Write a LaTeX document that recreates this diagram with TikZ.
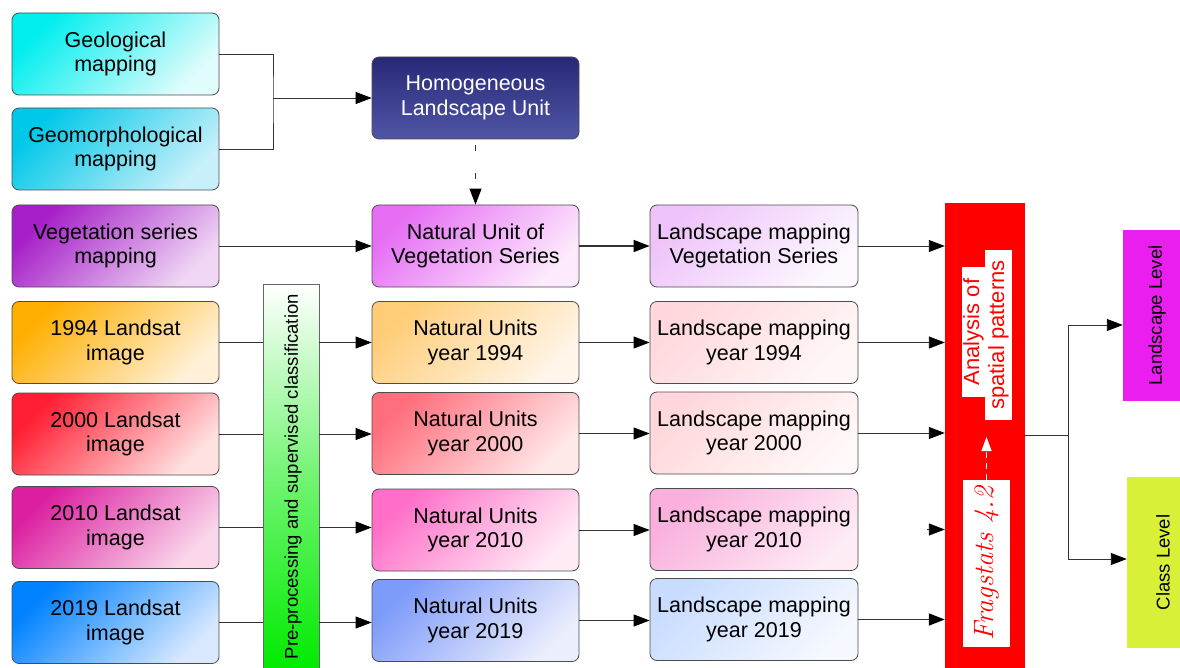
\documentclass[tikz,border=0pt]{standalone}
\usepackage{fontspec}
\usepackage{graphicx}
\setsansfont{Liberation Sans}
\usetikzlibrary{arrows.meta,calc}
\definecolor{geoA}{RGB}{0,238,238}\definecolor{geoB}{RGB}{225,252,252}
\definecolor{gmA}{RGB}{0,200,232}\definecolor{gmB}{RGB}{200,240,250}
\definecolor{vgA}{RGB}{165,30,200}\definecolor{vgB}{RGB}{240,215,245}
\definecolor{aA}{RGB}{255,175,0}\definecolor{aB}{RGB}{255,240,215}
\definecolor{bA}{RGB}{255,30,50}\definecolor{bB}{RGB}{255,225,225}
\definecolor{cA}{RGB}{220,30,160}\definecolor{cB}{RGB}{250,215,235}
\definecolor{dA}{RGB}{0,130,255}\definecolor{dB}{RGB}{215,232,255}
\definecolor{hoA}{RGB}{40,40,120}\definecolor{hoB}{RGB}{80,85,165}
\definecolor{nvA}{RGB}{230,110,245}\definecolor{nvB}{RGB}{253,235,253}
\definecolor{naA}{RGB}{255,205,120}\definecolor{naB}{RGB}{255,245,232}
\definecolor{nbA}{RGB}{255,110,125}\definecolor{nbB}{RGB}{255,232,232}
\definecolor{ncA}{RGB}{255,110,200}\definecolor{ncB}{RGB}{255,235,245}
\definecolor{ndA}{RGB}{125,155,250}\definecolor{ndB}{RGB}{235,238,252}
\definecolor{lvA}{RGB}{238,195,250}\definecolor{lvB}{RGB}{252,248,254}
\definecolor{laA}{RGB}{255,215,220}\definecolor{laB}{RGB}{255,247,247}
\definecolor{lbA}{RGB}{255,215,218}\definecolor{lbB}{RGB}{255,248,248}
\definecolor{lcA}{RGB}{250,175,220}\definecolor{lcB}{RGB}{253,235,245}
\definecolor{ldA}{RGB}{200,220,255}\definecolor{ldB}{RGB}{245,248,255}
\definecolor{gbar}{RGB}{0,235,0}
\definecolor{redbar}{RGB}{255,0,0}
\definecolor{magbox}{RGB}{235,30,240}
\definecolor{ylbox}{RGB}{216,240,56}
\begin{document}
\begin{tikzpicture}[x=1pt,y=-1pt,
  box/.style={rectangle, rounded corners=7pt, draw=black!70, line width=0.8pt,
    minimum width=207pt, minimum height=82pt, align=center, inner sep=1pt,
    font=\sffamily\fontsize{21.5}{24.5}\selectfont},
  gr/.style 2 args={top color=#1, bottom color=#2, shading angle=45},
  conn/.style={line width=0.9pt, draw=black!80},
  arr/.style={conn, -{Triangle[length=16pt,width=12pt,color=black]}},
  rlabel/.style={fill=white, inner sep=0pt, text=redbar,
    font=\sffamily\fontsize{22}{24}\selectfont},
  lvl/.style={inner sep=0pt, minimum height=171pt,
    font=\sffamily\fontsize{18.5}{20}\selectfont}
]
\useasboundingbox (0,0) rectangle (1180,668);
\clip (0,0) rectangle (1180,668);

% left column
\node[box, gr={geoA}{geoB}] (geo) at (115.5,54) {Geological\\mapping};
\node[box, gr={gmA}{gmB}] (geom) at (115.5,149) {Geomorphological\\mapping};
\node[box, gr={vgA}{vgB}] (vegm) at (115.5,246) {Vegetation series\\mapping};
\node[box, gr={aA}{aB}] (s1994) at (115.5,342.5) {1994 Landsat\\image};
\node[box, gr={bA}{bB}] (s2000) at (115.5,434) {2000 Landsat\\image};
\node[box, gr={cA}{cB}] (s2010) at (115.5,527.5) {2010 Landsat\\image};
\node[box, gr={dA}{dB}] (s2019) at (115.5,622.5) {2019 Landsat\\image};

% middle column
\node[box, top color=hoA, bottom color=hoB, text=white] (homog) at (475.5,98) {Homogeneous\\Landscape Unit};
\node[box, gr={nvA}{nvB}] (nuveg) at (475.5,246) {Natural Unit of\\Vegetation Series};
\node[box, gr={naA}{naB}] (n1994) at (475.5,342.5) {Natural Units\\year 1994};
\node[box, gr={nbA}{nbB}] (n2000) at (475.5,433.5) {Natural Units\\year 2000};
\node[box, gr={ncA}{ncB}] (n2010) at (475.5,530) {Natural Units\\year 2010};
\node[box, gr={ndA}{ndB}] (n2019) at (475.5,620.5) {Natural Units\\year 2019};

% right column
\node[box, minimum width=208pt, gr={lvA}{lvB}] (lveg) at (754,246) {Landscape mapping\\Vegetation Series};
\node[box, minimum width=208pt, gr={laA}{laB}] (l1994) at (754,342.5) {Landscape mapping\\year 1994};
\node[box, minimum width=208pt, gr={lbA}{lbB}] (l2000) at (754,433) {Landscape mapping\\year 2000};
\node[box, minimum width=208pt, gr={lcA}{lcB}] (l2010) at (754,529.5) {Landscape mapping\\year 2010};
\node[box, minimum width=208pt, gr={ldA}{ldB}] (l2019) at (754,619.5) {Landscape mapping\\year 2019};

% bracket to homogeneous unit
\coordinate (j1) at (273,98);
\draw[conn] (geo.east) -| (j1) |- (geom.east);
\draw[arr] (j1) -- (homog.west);
\draw[arr, dash pattern=on 6pt off 22pt, shorten <=6pt] (homog.south) -- (nuveg.north);
\draw[arr] (vegm.east) -- (vegm.east -| nuveg.west);

% green classification bar
\node[draw=black!60, line width=0.6pt, top color=white, bottom color=gbar, middle color=gbar!55,
  minimum width=56pt, minimum height=384pt, inner sep=0pt, anchor=north] (bar) at (291,284) {};
\node[inner sep=0pt, anchor=north, font=\sffamily\fontsize{18.5}{20}\selectfont] (bartext) at (293,294)
  {\rotatebox{90}{Pre-processing and supervised classification}};

\foreach \s/\n in {s1994/n1994, s2000/n2000, s2010/n2010, s2019/n2019}{
  \draw[conn] (\s.east) -- (\s.east -| bar.west);
  \draw[arr] (\s.east -| bar.east) -- (\s.east -| \n.west);
}

% middle to right
\draw[arr, line width=1.5pt] (nuveg.east) -- (nuveg.east -| lveg.west);
\foreach \n/\l in {n1994/l1994, n2000/l2000, n2010/l2010, n2019/l2019}{
  \draw[arr] (\n.east) -- (\n.east -| \l.west);
}

% red analysis bar
\node[fill=redbar, minimum width=80pt, minimum height=465pt, inner sep=0pt] (red) at (985,435.5) {};
\node[rlabel, minimum width=23pt, minimum height=130pt] (an1) at (973.5,332) {\rotatebox{90}{Analysis of}};
\node[rlabel, minimum width=27pt, minimum height=170pt] (an2) at (998.5,335) {\rotatebox{90}{spatial patterns}};
\node[fill=white, inner sep=0pt, minimum width=47pt, minimum height=167pt, text=redbar,
  font=\rmfamily\itshape\fontsize{28}{30}\selectfont] (frag) at (986.5,563.5) {\rotatebox{90}{Fragstats 4.2}};
\coordinate (wtip) at (986.5,437);
\draw[white, line width=1.2pt, dash pattern=on 6pt off 5pt,
  -{Triangle[length=14pt,width=10pt,color=white]}] (frag.north) -- (wtip);

% arrows into the red bar
\draw[arr] (lveg.east) -- (lveg.east -| red.west);
\draw[arr] (l1994.east) -- (l1994.east -| red.west);
\draw[arr] (l2000.east) -- (l2000.east -| red.west);
\draw[arr] ($(red.west |- l2010.east)+(-18,0)$) -- (red.west |- l2010.east);
\draw[arr, line width=1.5pt] (l2019.east) -- (l2019.east -| red.west);

% levels
\node[lvl, fill=magbox, minimum width=68pt] (ll) at (1157,315.5) {\rotatebox{90}{Landscape Level}};
\node[lvl, fill=ylbox, minimum width=72pt] (cl) at (1163,562.5) {\rotatebox{90}{Class Level}};
\coordinate (j2) at (1068,435.5);
\draw[conn] (red.east) -- (j2);
\draw[arr] (j2) |- ($(ll.west)+(0,9.5)$);
\draw[arr] (j2) |- ($(cl.west)+(0,-3.5)$);
\end{tikzpicture}
\end{document}
